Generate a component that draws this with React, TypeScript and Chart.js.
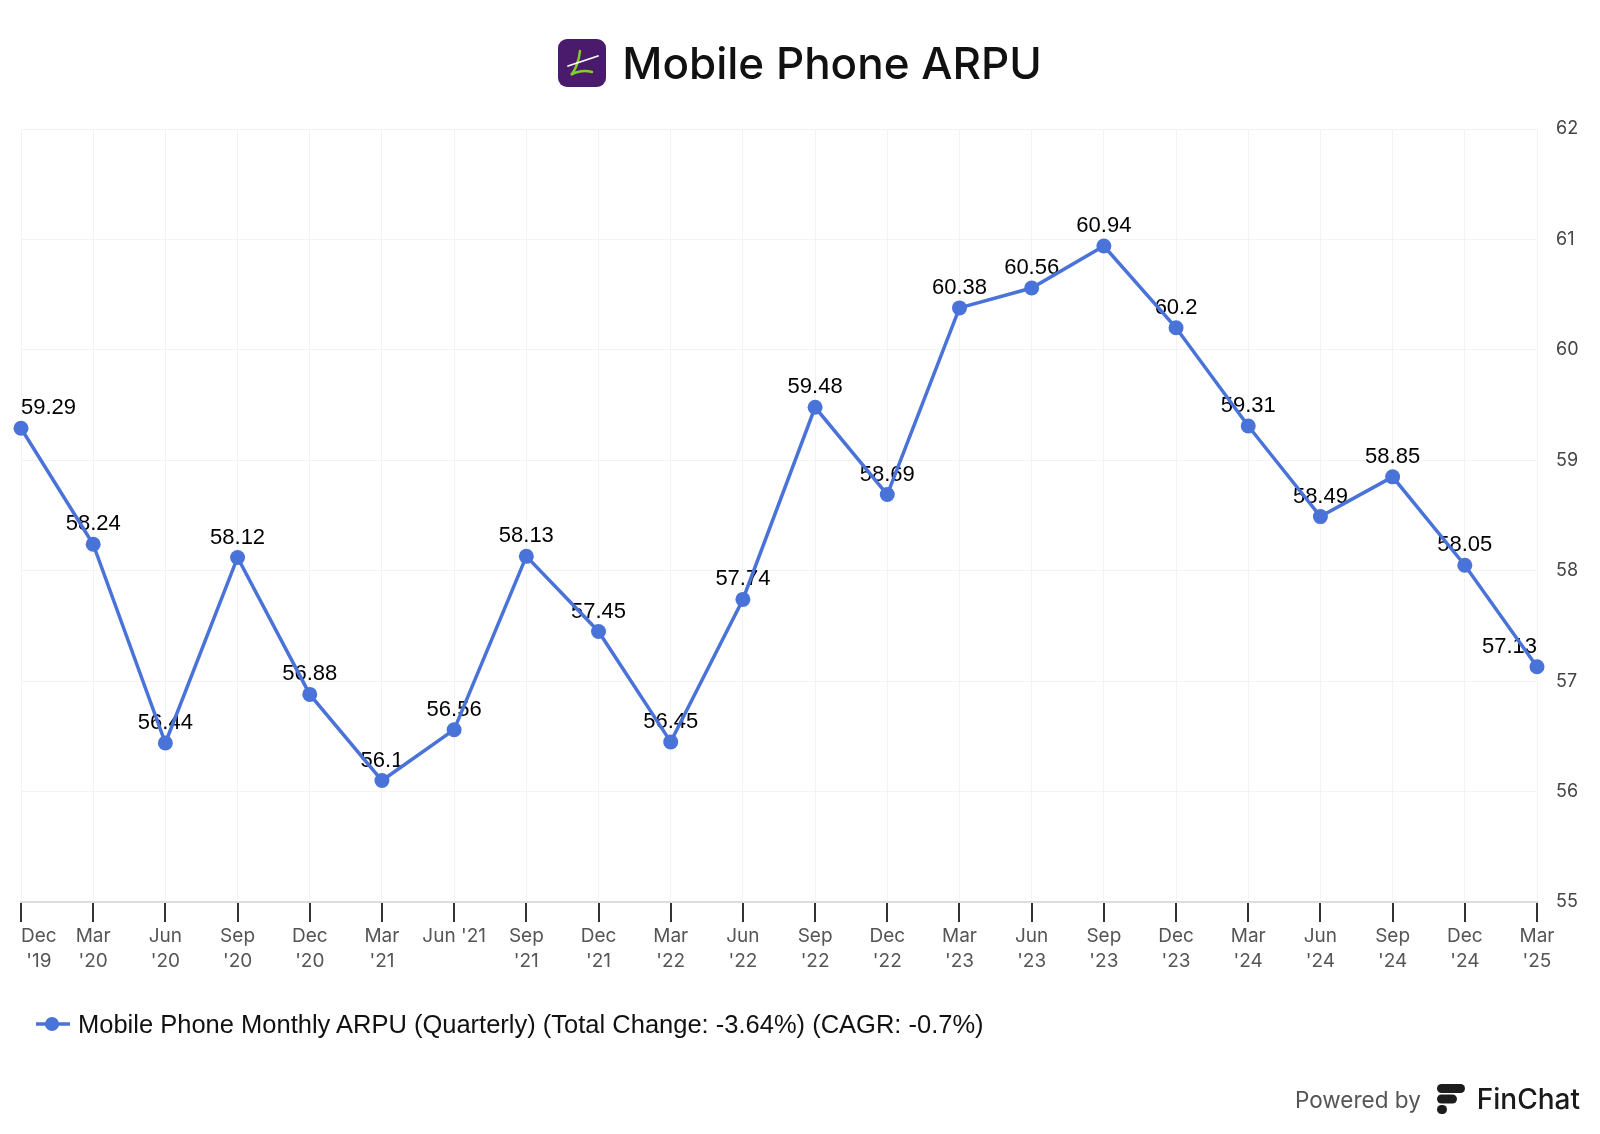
import React, { useEffect, useRef } from "react";
import { Chart, registerables } from "chart.js";

Chart.register(...registerables);

const categories: (string | string[])[] = [
  ["Dec", "'19"], ["Mar", "'20"], ["Jun", "'20"], ["Sep", "'20"], ["Dec", "'20"],
  ["Mar", "'21"], "Jun '21", ["Sep", "'21"], ["Dec", "'21"], ["Mar", "'22"],
  ["Jun", "'22"], ["Sep", "'22"], ["Dec", "'22"], ["Mar", "'23"], ["Jun", "'23"],
  ["Sep", "'23"], ["Dec", "'23"], ["Mar", "'24"], ["Jun", "'24"], ["Sep", "'24"],
  ["Dec", "'24"], ["Mar", "'25"],
];

const arpuValues: number[] = [
  59.29, 58.24, 56.44, 58.12, 56.88, 56.1, 56.56, 58.13, 57.45, 56.45, 57.74,
  59.48, 58.69, 60.38, 60.56, 60.94, 60.2, 59.31, 58.49, 58.85, 58.05, 57.13,
];

const seriesName = "Mobile Phone Monthly ARPU (Quarterly) (Total Change: -3.64%) (CAGR: -0.7%)";
const yMin = 55;
const yMax = 62;

const LINE_COLOR = "#4a73d9";
const TICK_FONT = "19px Inter, 'Noto Sans', sans-serif";

const dataLabelPlugin = {
  id: "dataLabels",
  beforeDatasetsDraw(chart: any) {
    const ctx = chart.ctx;
    const area = chart.chartArea;
    const meta = chart.getDatasetMeta(0);
    const data = chart.data.datasets[0].data as number[];
    ctx.save();
    ctx.font = "22px Arial, 'Liberation Sans', sans-serif";
    ctx.fillStyle = "#000";
    ctx.textBaseline = "middle";
    ctx.textAlign = "center";
    meta.data.forEach((pt: any, i: number) => {
      const txt = String(data[i]);
      const w = ctx.measureText(txt).width;
      let x = pt.x;
      x = Math.max(area.left + w / 2, Math.min(area.right - w / 2, x));
      ctx.fillText(txt, x, pt.y - 20);
    });
    ctx.restore();
  },
};

const xAxisPlugin = {
  id: "xAxisDecor",
  afterDraw(chart: any) {
    const ctx = chart.ctx;
    const xs = chart.scales.x;
    const area = chart.chartArea;
    const bottom = area.bottom;
    ctx.save();
    ctx.strokeStyle = "#333333";
    ctx.lineWidth = 2;
    for (let i = 0; i < categories.length; i++) {
      const x = Math.round(xs.getPixelForValue(i));
      ctx.beginPath();
      ctx.moveTo(x, bottom + 1);
      ctx.lineTo(x, bottom + 20);
      ctx.stroke();
    }
    ctx.font = TICK_FONT;
    ctx.fillStyle = "#555555";
    ctx.textBaseline = "middle";
    ctx.textAlign = "center";
    for (let i = 0; i < categories.length; i++) {
      const lab = categories[i];
      const lines = Array.isArray(lab) ? lab : [lab];
      const w = Math.max(...lines.map((l) => ctx.measureText(l).width));
      let x = xs.getPixelForValue(i);
      x = Math.max(area.left + w / 2, x);
      lines.forEach((l, j) => {
        ctx.fillText(l, x, bottom + 34 + j * 25);
      });
    }
    ctx.restore();
  },
};

export default function App() {
  const ref = useRef<HTMLCanvasElement | null>(null);

  useEffect(() => {
    if (!ref.current) return;
    const chart = new Chart(ref.current, {
      type: "line",
      data: {
        labels: categories,
        datasets: [
          {
            label: seriesName,
            data: arpuValues,
            borderColor: LINE_COLOR,
            backgroundColor: LINE_COLOR,
            borderWidth: 3.5,
            pointRadius: 7.5,
            pointHoverRadius: 7.5,
            pointBackgroundColor: LINE_COLOR,
            pointBorderColor: LINE_COLOR,
            pointBorderWidth: 0,
            tension: 0,
            clip: false as any,
          },
        ],
      },
      options: {
        responsive: false,
        animation: false,
        devicePixelRatio: 1,
        layout: { padding: { left: 21, top: 129, right: 0, bottom: 152 } },
        plugins: {
          legend: { display: false },
          title: { display: false },
          tooltip: { enabled: false },
        },
        scales: {
          x: {
            type: "category",
            offset: false,
            grid: {
              display: true,
              color: "#f3f3f3",
              lineWidth: 1,
              drawTicks: false,
            },
            border: { display: true, color: "#dddddd", width: 2 },
            ticks: {
              display: false,
              autoSkip: false,
              maxRotation: 0,
              minRotation: 0,
            },
            afterFit(scale: any) {
              scale.height = 80;
              scale.paddingLeft = 0;
              scale.paddingRight = 0;
            },
          },
          y: {
            position: "right",
            min: yMin,
            max: yMax,
            ticks: {
              stepSize: 1,
              padding: 19,
              color: "#444444",
              font: { family: "Inter, 'Noto Sans', sans-serif", size: 18 },
            },
            grid: { color: "#f3f3f3", lineWidth: 1, drawTicks: false },
            border: { display: false },
            afterFit(scale: any) {
              scale.width = 63;
              scale.paddingTop = 0;
              scale.paddingBottom = 0;
            },
          },
        },
      },
      plugins: [dataLabelPlugin, xAxisPlugin],
    } as any);
    return () => chart.destroy();
  }, []);

  return (
    <div style={{ position: "absolute", left: 0, top: 0, width: 1600, height: 1134, background: "#fff", overflow: "hidden" }}>
      <canvas ref={ref} width={1600} height={1134} style={{ position: "absolute", left: 0, top: 0, width: 1600, height: 1134 }} />
      <div style={{ position: "absolute", top: 36, left: 0, width: 1600, display: "flex", justifyContent: "center", alignItems: "center" }}>
        <svg width="48" height="48" viewBox="0 0 48 48" style={{ marginRight: 16 }}>
          <rect x="0" y="0" width="48" height="48" rx="9" fill="#4a1b6d" />
          <path d="M22 12 C 21 22, 17 32, 13 36 C 18 33, 26 31, 34 33" stroke="#7fcf2a" strokeWidth="2.5" fill="none" strokeLinecap="round" />
          <path d="M10 27 L 40 17" stroke="#ffffff" strokeWidth="1.8" strokeLinecap="round" />
        </svg>
        <span style={{ fontFamily: "Inter, 'Noto Sans', sans-serif", fontSize: 44, fontWeight: 500, color: "#111", letterSpacing: 0 }}>
          Mobile Phone ARPU
        </span>
      </div>
      <div style={{ position: "absolute", top: 1009, left: 36, display: "flex", alignItems: "center", height: 30 }}>
        <svg width="34" height="16" viewBox="0 0 34 16" style={{ marginRight: 8 }}>
          <line x1="0" y1="8" x2="34" y2="8" stroke={LINE_COLOR} strokeWidth="3.5" />
          <circle cx="16" cy="8" r="7" fill={LINE_COLOR} />
        </svg>
        <span style={{ fontFamily: "Arial, 'Liberation Sans', sans-serif", fontSize: 25.5, color: "#111" }}>{seriesName}</span>
      </div>
      <div style={{ position: "absolute", top: 1082, right: 20, display: "flex", alignItems: "center" }}>
        <span style={{ fontFamily: "Inter, 'Noto Sans', sans-serif", fontSize: 22.5, color: "#555", marginRight: 14 }}>Powered by</span>
        <svg width="32" height="34" viewBox="0 0 32 34" style={{ marginRight: 10 }}>
          <rect x="2" y="2" width="28" height="9" rx="4.5" fill="#1c1c1c" />
          <rect x="2" y="12.5" width="20" height="9" rx="4.5" fill="#1c1c1c" />
          <rect x="2" y="23" width="10" height="9" rx="4.5" fill="#1c1c1c" />
        </svg>
        <span style={{ fontFamily: "Inter, 'Noto Sans', sans-serif", fontSize: 28, fontWeight: 500, color: "#1a1a1a" }}>FinChat</span>
      </div>
    </div>
  );
}
